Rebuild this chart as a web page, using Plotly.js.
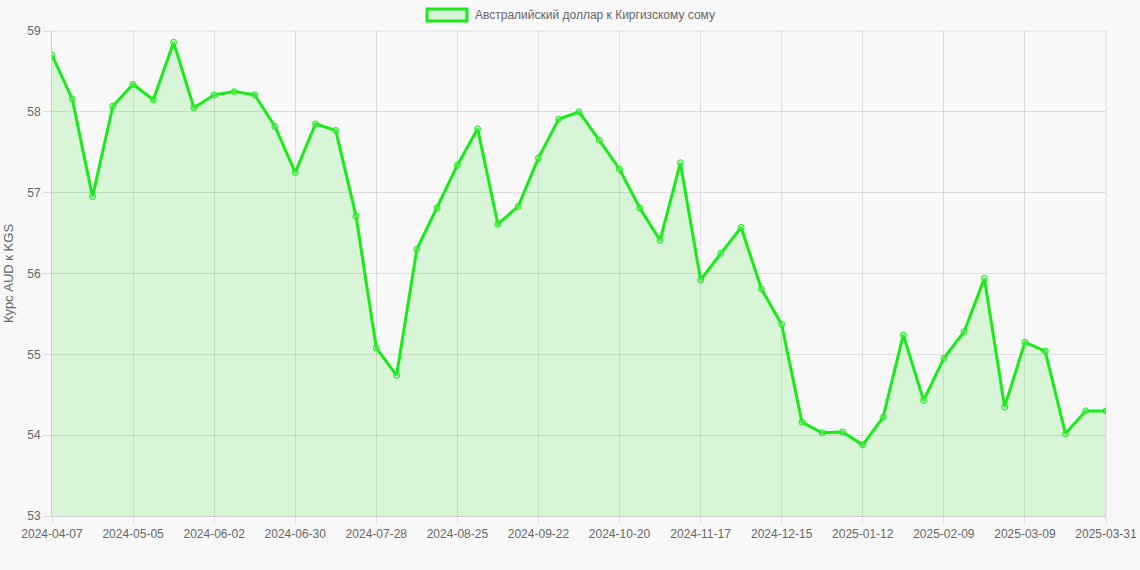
<!DOCTYPE html>
<html>
<head>
<meta charset="utf-8">
<script src="https://cdn.plot.ly/plotly-3.0.1.min.js"></script>
<style>
html,body{margin:0;padding:0;background:#f8f8f8;}
#chart{width:1140px;height:570px;}
</style>
</head>
<body>
<div id="chart"></div>
<script>
const dates = [
  "2024-04-07","2024-04-14","2024-04-21","2024-04-28","2024-05-05","2024-05-12","2024-05-19","2024-05-26",
  "2024-06-02","2024-06-09","2024-06-16","2024-06-23","2024-06-30","2024-07-07","2024-07-14","2024-07-21",
  "2024-07-28","2024-08-04","2024-08-11","2024-08-18","2024-08-25","2024-09-01","2024-09-08","2024-09-15",
  "2024-09-22","2024-09-29","2024-10-06","2024-10-13","2024-10-20","2024-10-27","2024-11-03","2024-11-10",
  "2024-11-17","2024-11-24","2024-12-01","2024-12-08","2024-12-15","2024-12-22","2024-12-29","2025-01-05",
  "2025-01-12","2025-01-19","2025-01-26","2025-02-02","2025-02-09","2025-02-16","2025-02-23","2025-03-02",
  "2025-03-09","2025-03-16","2025-03-23","2025-03-30","2025-03-31"
];
const rates = [
  58.70, 58.16, 56.95, 58.07, 58.34, 58.15, 58.86, 58.05,
  58.21, 58.25, 58.21, 57.82, 57.25, 57.85, 57.77, 56.71,
  55.08, 54.74, 56.30, 56.81, 57.34, 57.79, 56.61, 56.83,
  57.43, 57.91, 58.00, 57.65, 57.29, 56.81, 56.41, 57.37,
  55.92, 56.25, 56.57, 55.81, 55.37, 54.16, 54.03, 54.04,
  53.88, 54.22, 55.24, 54.43, 54.95, 55.28, 55.94, 54.35,
  55.15, 55.04, 54.02, 54.30, 54.30
];
const tickLabels = [
  "2024-04-07","2024-05-05","2024-06-02","2024-06-30","2024-07-28","2024-08-25","2024-09-22",
  "2024-10-20","2024-11-17","2024-12-15","2025-01-12","2025-02-09","2025-03-09","2025-03-31"
];
const seriesName = "Австралийский доллар к Киргизскому сому";
const yTitle = "Курс AUD к KGS";

const lineColor = "rgb(24,235,24)";
const trace = {
  x: dates,
  y: rates,
  type: "scatter",
  mode: "lines+markers",
  fill: "tozeroy",
  fillcolor: "rgba(0,225,0,0.13)",
  line: {color: lineColor, width: 3},
  marker: {size: 6, color: "rgba(120,240,120,0.35)", line: {color: lineColor, width: 1}},
  showlegend: false,
  hoverinfo: "x+y"
};

const font = {family: "Liberation Sans, Arial, Helvetica, sans-serif", size: 12, color: "#666"};

const layout = {
  width: 1140,
  height: 570,
  paper_bgcolor: "#f8f8f8",
  plot_bgcolor: "#f8f8f8",
  margin: {l: 52, r: 34, t: 31, b: 54},
  font: font,
  showlegend: false,
  xaxis: {
    type: "category",
    range: [0, dates.length - 1],
    tickmode: "array",
    tickvals: tickLabels,
    ticktext: tickLabels,
    tickangle: 0,
    showgrid: true,
    gridcolor: "rgba(0,0,0,0.1)",
    gridwidth: 1,
    ticks: "outside",
    ticklen: 7,
    tickcolor: "rgba(0,0,0,0.1)",
    showline: true,
    linecolor: "rgba(0,0,0,0.18)",
    linewidth: 1,
    mirror: false,
    zeroline: false,
    tickfont: font
  },
  yaxis: {
    range: [53, 59],
    dtick: 1,
    showgrid: true,
    gridcolor: "rgba(0,0,0,0.1)",
    gridwidth: 1,
    ticks: "outside",
    ticklen: 8,
    tickcolor: "rgba(0,0,0,0.1)",
    showline: true,
    linecolor: "rgba(0,0,0,0.18)",
    linewidth: 1,
    zeroline: false,
    tickfont: font,
    title: {text: yTitle, font: {family: font.family, size: 13, color: "#666"}, standoff: 10}
  },
  shapes: [
    {type: "line", xref: "paper", yref: "paper", x0: 1, x1: 1, y0: 0, y1: 1,
     line: {color: "rgba(0,0,0,0.1)", width: 1}},
    {type: "line", xref: "paper", yref: "paper", x0: 0, x1: 1, y0: 1, y1: 1,
     line: {color: "rgba(0,0,0,0.1)", width: 1}},
    {type: "rect", xref: "paper", yref: "paper",
     x0: (427 - 52) / 1054, x1: (467 - 52) / 1054,
     y0: (516 - 21) / 485, y1: (516 - 9) / 485,
     fillcolor: "rgba(0,225,0,0.13)", line: {color: lineColor, width: 3}}
  ],
  annotations: [
    {xref: "paper", yref: "paper", x: (473 - 52) / 1054, y: (516 - 15) / 485,
     xanchor: "left", yanchor: "middle", showarrow: false,
     text: seriesName, font: font}
  ]
};

Plotly.newPlot("chart", [trace], layout, {displayModeBar: false, staticPlot: true});
</script>
</body>
</html>
